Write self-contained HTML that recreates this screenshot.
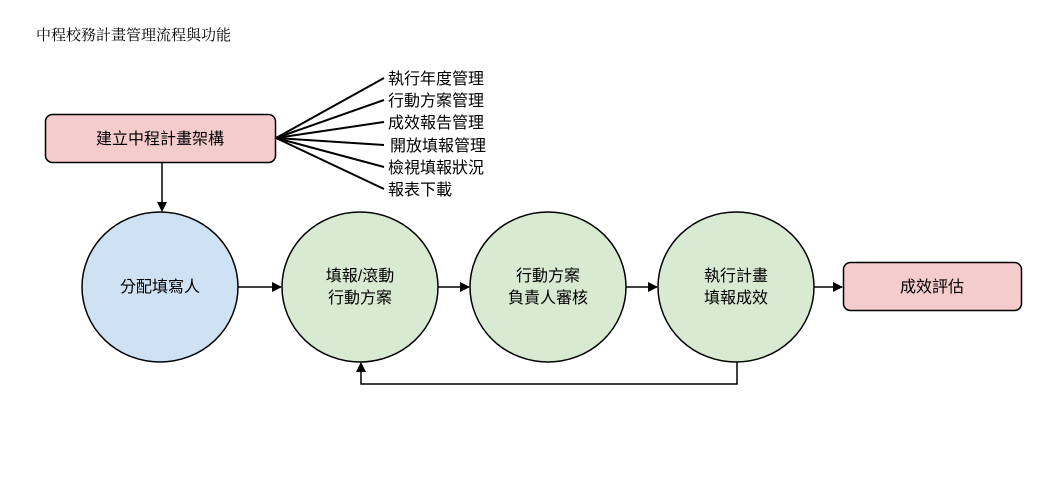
<!DOCTYPE html>
<html><head><meta charset="utf-8"><style>
html,body{margin:0;padding:0;background:#fff;width:1060px;height:485px;overflow:hidden}
svg text{font-family:"Liberation Sans","Noto Sans CJK TC",sans-serif;fill:#000}
</style></head><body>
<svg width="1060" height="485" viewBox="0 0 1060 485" xmlns="http://www.w3.org/2000/svg">
<defs><marker id="a" markerWidth="10" markerHeight="10" refX="9" refY="5" orient="auto" markerUnits="userSpaceOnUse"><path d="M0,0 L10,5 L0,10 z" fill="#000"/></marker></defs>
<text x="36" y="40" font-size="15" style="font-family:'Liberation Serif','Noto Serif CJK SC',serif" fill="#333">中程校務計畫管理流程與功能</text>
<rect x="45.5" y="114.5" width="230" height="48" rx="7" fill="#f4cccc" stroke="#000" stroke-width="1.5"/>
<text x="160" y="144" font-size="16" text-anchor="middle">建立中程計畫架構</text>
<g stroke="#000" stroke-width="2">
<line x1="276" y1="138" x2="384" y2="78"/>
<line x1="276" y1="138" x2="384" y2="100"/>
<line x1="276" y1="138" x2="384" y2="122"/>
<line x1="276" y1="138" x2="384" y2="145"/>
<line x1="276" y1="138" x2="384" y2="167"/>
<line x1="276" y1="138" x2="384" y2="189"/>
</g>
<g font-size="16">
<text x="388" y="84">執行年度管理</text>
<text x="388" y="106">行動方案管理</text>
<text x="388" y="128">成效報告管理</text>
<text x="390" y="151">開放填報管理</text>
<text x="388" y="173">檢視填報狀況</text>
<text x="388" y="195">報表下載</text>
</g>
<line x1="162" y1="163" x2="162" y2="211" stroke="#000" stroke-width="1.5" marker-end="url(#a)"/>
<ellipse cx="160" cy="287" rx="78" ry="75" fill="#cfe2f3" stroke="#000" stroke-width="1.5"/>
<ellipse cx="360" cy="287" rx="78" ry="75" fill="#d9ead3" stroke="#000" stroke-width="1.5"/>
<ellipse cx="548" cy="287" rx="78" ry="75" fill="#d9ead3" stroke="#000" stroke-width="1.5"/>
<ellipse cx="736" cy="287" rx="78" ry="75" fill="#d9ead3" stroke="#000" stroke-width="1.5"/>
<rect x="843.5" y="262.5" width="178" height="48" rx="7" fill="#f4cccc" stroke="#000" stroke-width="1.5"/>
<g font-size="16" text-anchor="middle">
<text x="160" y="292">分配填寫人</text>
<text x="360" y="281">填報/滾動</text><text x="360" y="303">行動方案</text>
<text x="548" y="281">行動方案</text><text x="548" y="303">負責人審核</text>
<text x="736" y="281">執行計畫</text><text x="736" y="303">填報成效</text>
<text x="932" y="292">成效評估</text>
</g>
<g stroke="#000" stroke-width="1.5" fill="none">
<line x1="238" y1="287" x2="281" y2="287" marker-end="url(#a)"/>
<line x1="438" y1="287" x2="469" y2="287" marker-end="url(#a)"/>
<line x1="626" y1="287" x2="657" y2="287" marker-end="url(#a)"/>
<line x1="814" y1="287" x2="842" y2="287" marker-end="url(#a)"/>
<path d="M737,362 L737,384 L361,384 L361,363" marker-end="url(#a)"/>
</g>
</svg>
</body></html>
